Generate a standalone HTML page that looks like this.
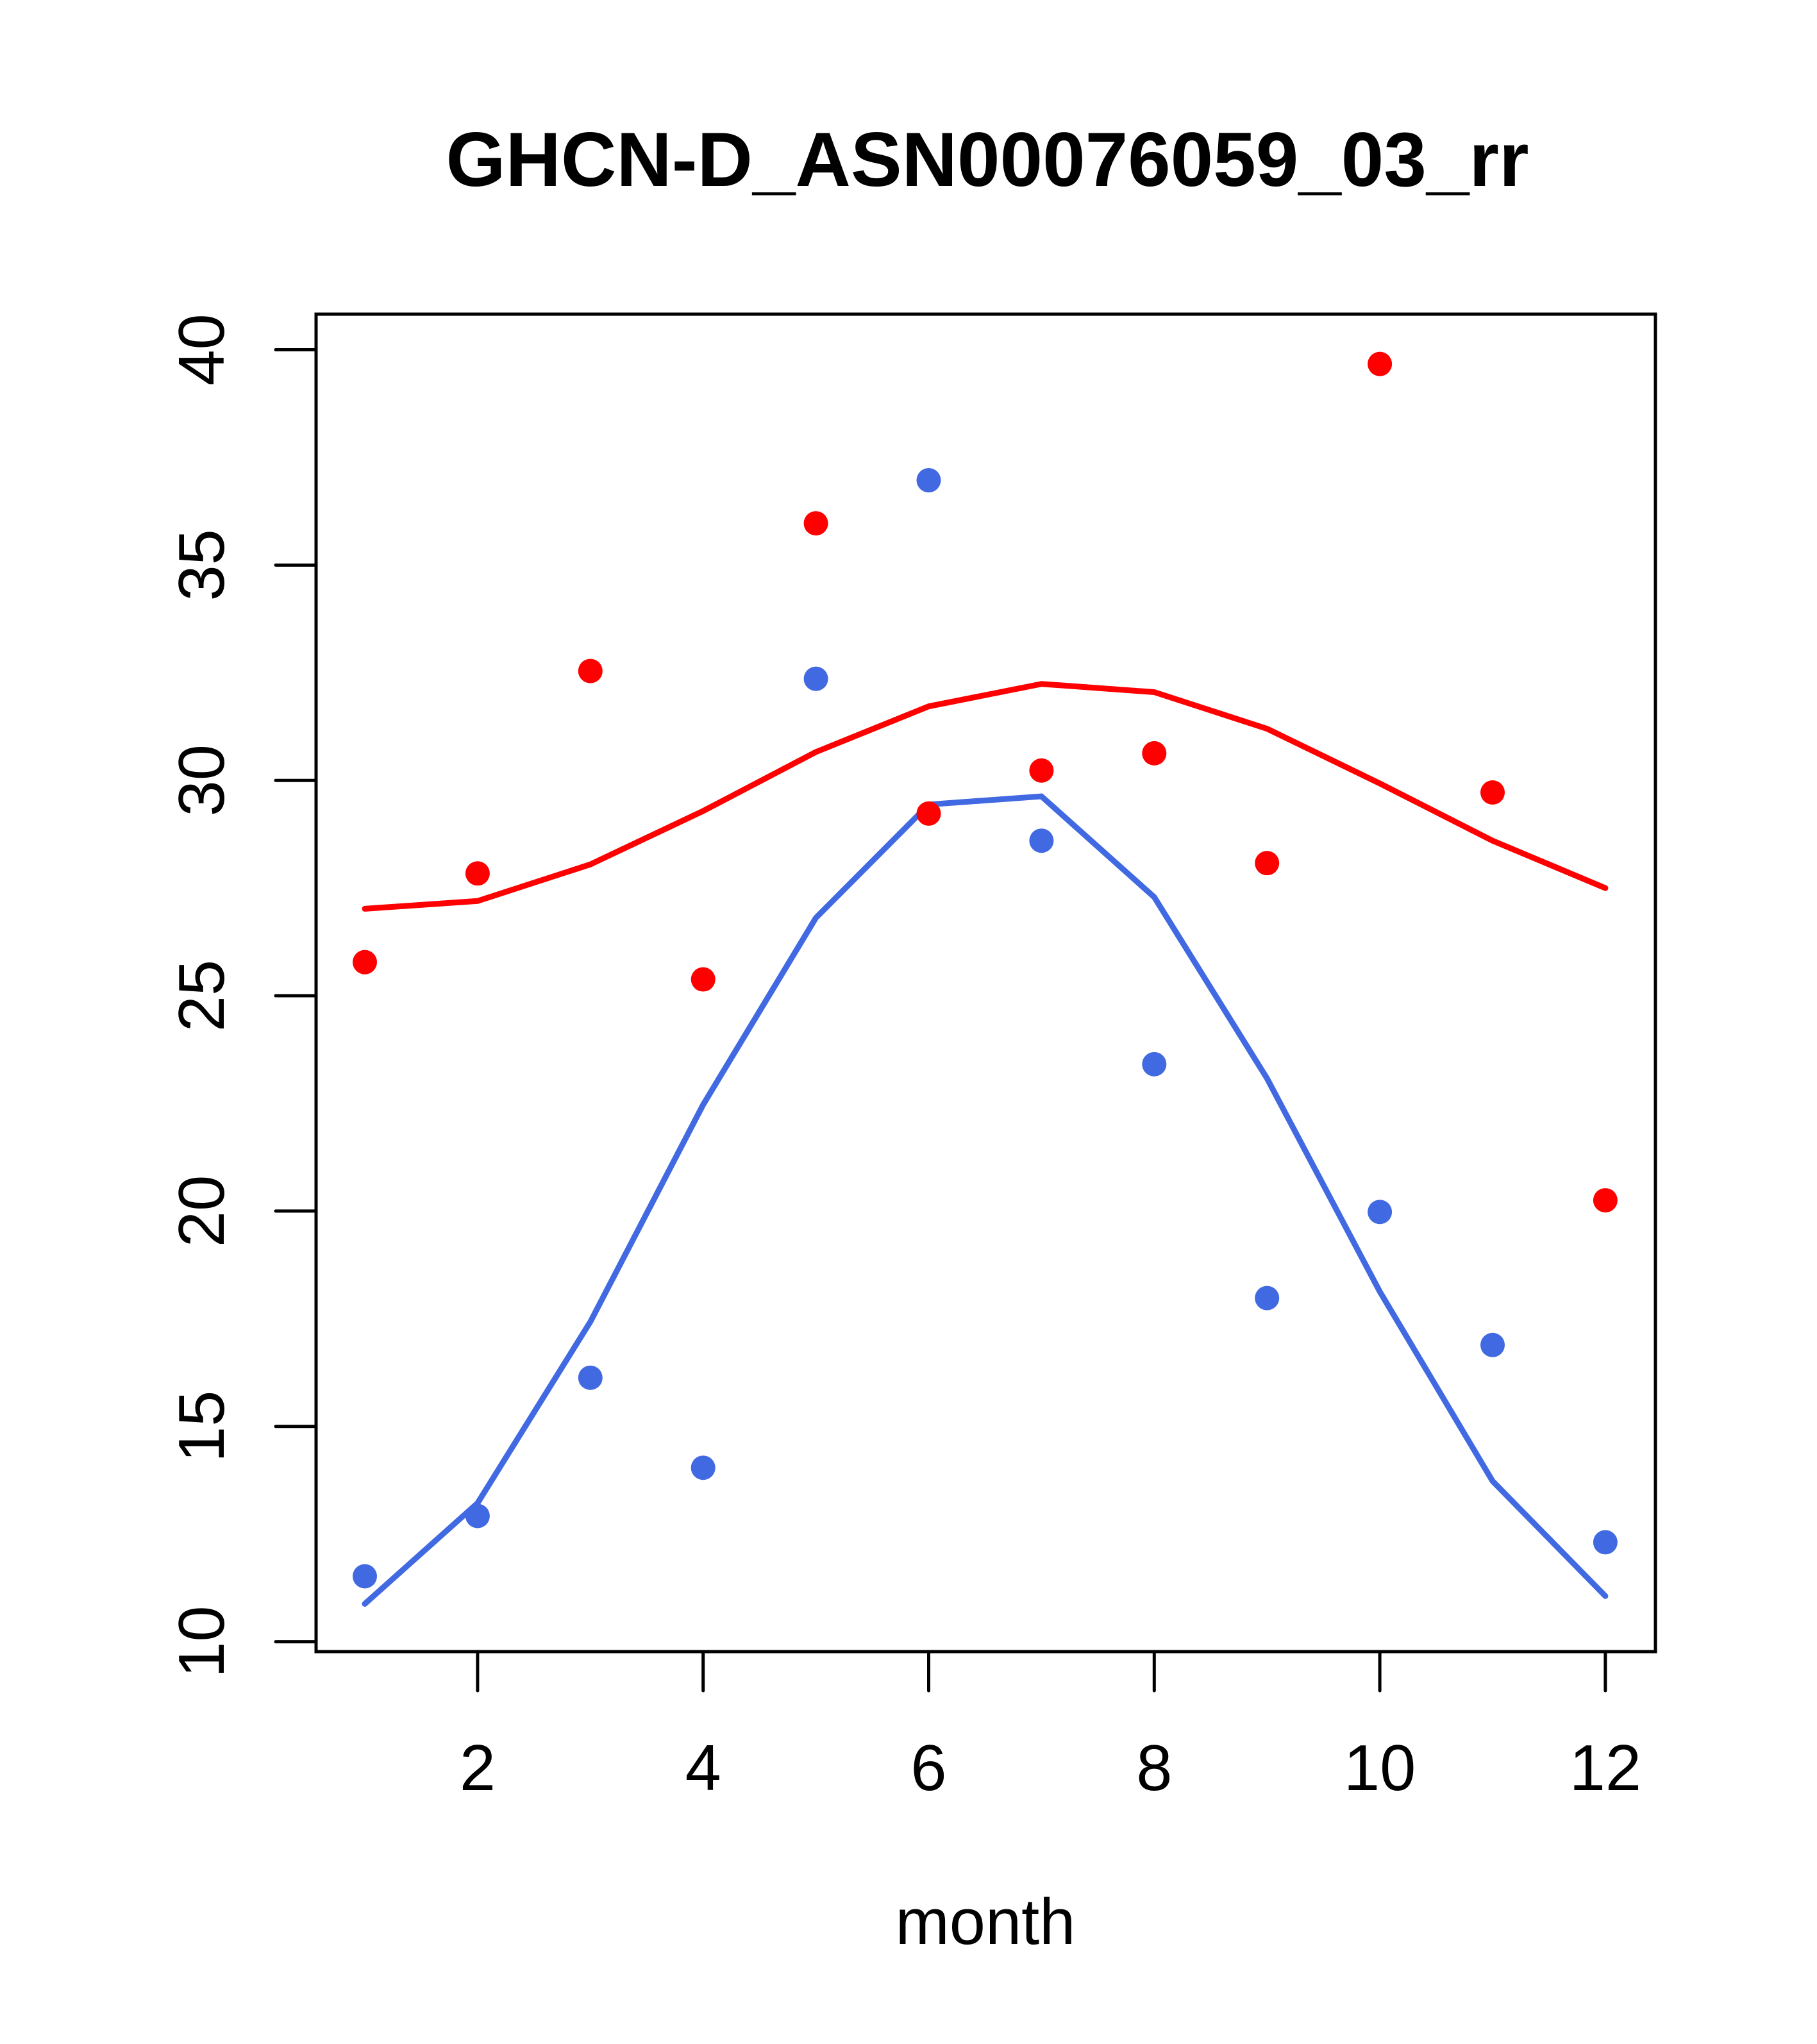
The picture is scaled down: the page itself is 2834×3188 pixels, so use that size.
<!DOCTYPE html>
<html><head><meta charset="utf-8"><style>html,body{margin:0;padding:0;background:#fff}svg{display:block}</style></head>
<body>
<svg id="chart" width="2834" height="3188" xmlns="http://www.w3.org/2000/svg" font-family="'Liberation Sans', sans-serif">
<rect width="2834" height="3188" fill="#fff"/>
<text x="1540" y="290" font-size="120" font-weight="bold" text-anchor="middle" textLength="1689" lengthAdjust="spacingAndGlyphs">GHCN-D_ASN00076059_03_rr</text>
<text x="1537" y="3032" font-size="101" text-anchor="middle">month</text>
<rect x="493" y="490" width="2089" height="2086" fill="none" stroke="#000" stroke-width="5"/>
<g id="axes"></g>
<g id="marks"></g>
</svg>
<script>
const months = [1,2,3,4,5,6,7,8,9,10,11,12];
const redPoints = [25.78,27.84,32.54,25.38,35.97,29.23,30.23,30.63,28.08,39.67,29.72,20.25];
const redLine = [27.02,27.2,28.05,29.29,30.66,31.72,32.24,32.05,31.2,29.93,28.6,27.5];
const bluePoints = [11.52,12.92,16.13,14.04,32.36,36.97,28.6,23.41,17.98,19.98,16.89,12.31];
const blueLine = [10.88,13.22,17.43,22.47,26.81,29.44,29.63,27.29,23.08,18.13,13.73,11.06];
const xTicks = [2,4,6,8,10,12];
const yTicks = [10,15,20,25,30,35,40];

const NS = "http://www.w3.org/2000/svg";
function xs(m){ return 569 + (m-1)*175.9; }
function ys(v){ return 545.5 + (40-v)*67.17; }
const axes = document.getElementById('axes');
const marks = document.getElementById('marks');
function mk(tag, attrs, parent){ const e=document.createElementNS(NS,tag); for(const k in attrs) e.setAttribute(k,attrs[k]); parent.appendChild(e); return e; }

xTicks.forEach(t=>{
  const l = mk('line',{x1:xs(t),x2:xs(t),y1:2576,y2:2637,stroke:'#000','stroke-width':5,'stroke-linecap':'round'},axes);
  
  
  const tx = mk('text',{x:xs(t),y:2792,'font-size':101,'text-anchor':'middle'},axes);
  tx.textContent = t;
  
  
});
yTicks.forEach(t=>{
  const l = mk('line',{x1:430,x2:493,y1:ys(t),y2:ys(t),stroke:'#000','stroke-width':5,'stroke-linecap':'round'},axes);
  
  
  const tx = mk('text',{x:0,y:0,'font-size':101,'text-anchor':'middle',transform:`translate(349,${ys(t)}) rotate(-90)`},axes);
  tx.textContent = t;
  
  
});
function line(vals, color, name){
  const p = mk('polyline',{points:vals.map((v,i)=>xs(months[i])+','+ys(v)).join(' '),fill:'none',stroke:color,'stroke-width':9,'stroke-linejoin':'round','stroke-linecap':'round'},marks);
  
  
}
function pts(vals, color, name){
  vals.forEach((v,i)=>{
    const c = mk('circle',{cx:xs(months[i]),cy:ys(v),r:19,fill:color},marks);
    
    
  });
}
line(redLine,'#ff0000','red-line');
line(blueLine,'#4169e1','blue-line');
pts(redPoints,'#ff0000','red-point');
pts(bluePoints,'#4169e1','blue-point');
</script>
</body></html>
